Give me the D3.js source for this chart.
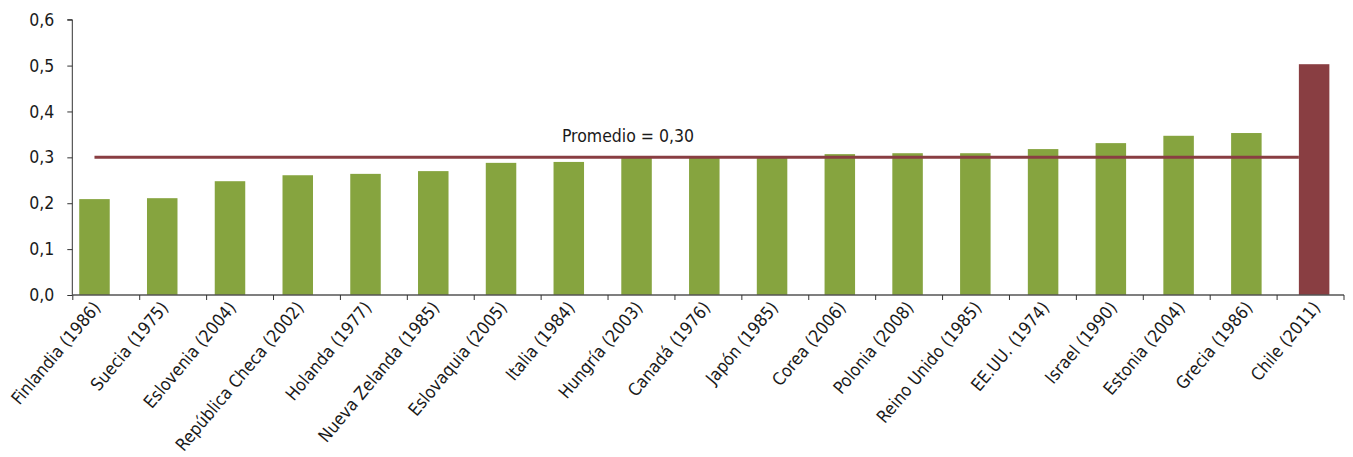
<!DOCTYPE html>
<html>
<head>
<meta charset="utf-8">
<script src="https://cdn.jsdelivr.net/npm/d3@7/dist/d3.min.js"></script>
<style>
  html, body { margin: 0; padding: 0; background: #fff; }
  svg { display: block; }
  text { font-family: "Liberation Sans Narrow", "DejaVu Sans Condensed", "DejaVu Sans", sans-serif; fill: #1a1a1a; }
</style>
</head>
<body>
<svg id="chart" width="1353" height="457"></svg>
<script>
// Countries (reform year) and their values
const categories = [
  "Finlandia (1986)", "Suecia (1975)", "Eslovenia (2004)", "República Checa (2002)",
  "Holanda (1977)", "Nueva Zelanda (1985)", "Eslovaquia (2005)", "Italia (1984)",
  "Hungría (2003)", "Canadá (1976)", "Japón (1985)", "Corea (2006)", "Polonia (2008)",
  "Reino Unido (1985)", "EE.UU. (1974)", "Israel (1990)", "Estonia (2004)",
  "Grecia (1986)", "Chile (2011)"
];
const values = [
  0.209, 0.211, 0.248, 0.261, 0.264, 0.270, 0.288, 0.290,
  0.301, 0.301, 0.301, 0.307, 0.309, 0.309, 0.318, 0.331, 0.347, 0.353, 0.503
];
const highlighted = ["Chile (2011)"];
const average = 0.30;
const averageLabel = "Promedio = 0,30";
const yTicks = [0, 0.1, 0.2, 0.3, 0.4, 0.5, 0.6];

const svg = d3.select("#chart");
const green = "#86a43f";
const red = "#893e42";

const y = d3.scaleLinear().domain([0, 0.6]).range([295, 19.7]);
// slots used to place the bars
const x = d3.scaleBand().domain(categories).range([60.6, 1348]);
// slots used for the category tick marks along the axis
const xTick = d3.scaleBand().domain(categories).range([72.8, 1344]);
const barW = 30.5;
const cx = d => x(d) + x.bandwidth() / 2;

// bars
svg.append("g").selectAll("rect")
  .data(categories.map((c, i) => ({ c, v: values[i] })))
  .join("rect")
  .attr("x", d => cx(d.c) - barW / 2)
  .attr("width", barW)
  .attr("y", d => y(d.v))
  .attr("height", d => y(0) - y(d.v))
  .attr("fill", d => highlighted.includes(d.c) ? red : green);

// average line
svg.append("line")
  .attr("x1", cx(categories[0]))
  .attr("x2", cx(categories[categories.length - 1]) - barW / 2)
  .attr("y1", y(average)).attr("y2", y(average))
  .attr("stroke", red).attr("stroke-width", 3);

svg.append("text")
  .attr("x", 628).attr("y", y(average) - 15)
  .attr("text-anchor", "middle")
  .attr("font-size", 17.5)
  .text(averageLabel);

// y axis
const yAxis = d3.axisLeft(y).tickValues(yTicks)
  .tickFormat(d => d3.format(".1f")(d).replace(".", ","))
  .tickSize(5).tickPadding(13);
const gy = svg.append("g").attr("transform", "translate(72.3,0)").call(yAxis);
gy.select(".domain").attr("stroke", "#333").attr("d", `M-5,${y(0.6)}H0V${y(0)}`);
gy.selectAll(".tick line").attr("stroke", "#333");
gy.selectAll(".tick text").attr("font-size", 17.5).attr("fill", "#1a1a1a")
  .style("font-family", "\"Liberation Sans Narrow\", \"DejaVu Sans Condensed\", sans-serif");

// x axis line and tick marks at category boundaries
const gx = svg.append("g");
gx.append("line")
  .attr("x1", 72.3).attr("x2", 1344)
  .attr("y1", y(0)).attr("y2", y(0))
  .attr("stroke", "#555").attr("stroke-width", 1.3);
const boundaries = categories.map(c => xTick(c)).concat([xTick.range()[1]]);
gx.selectAll("line.tk").data(boundaries).join("line")
  .attr("class", "tk")
  .attr("x1", d => d).attr("x2", d => d)
  .attr("y1", y(0)).attr("y2", y(0) + 5)
  .attr("stroke", "#333");

// category labels
gx.selectAll("text.cat").data(categories).join("text")
  .attr("class", "cat")
  .attr("text-anchor", "end")
  .attr("font-size", 17.5)
  .attr("transform", d => `translate(${cx(d) + 7},${y(0) + 13}) rotate(-50)`)
  .text(d => d);
</script>
</body>
</html>
